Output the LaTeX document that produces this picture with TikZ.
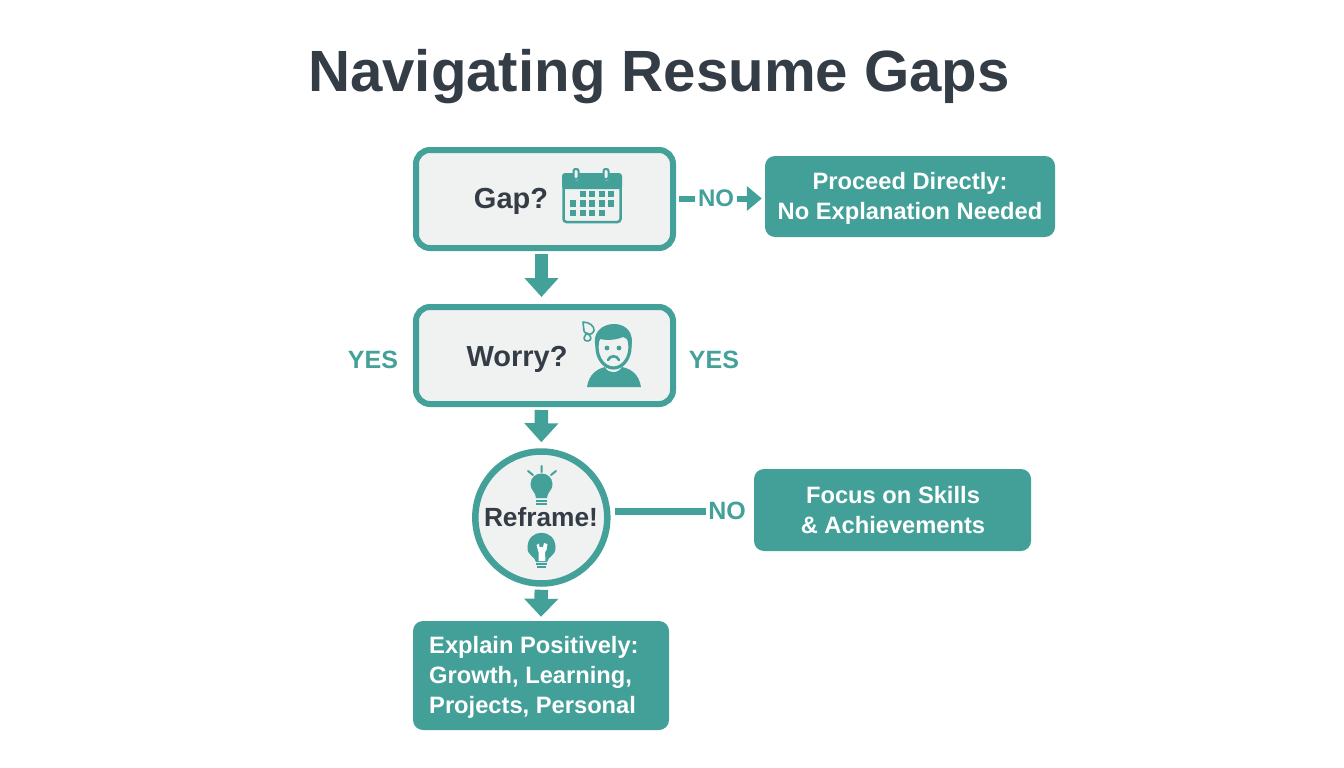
\documentclass[tikz,border=0pt]{standalone}
\usepackage{fontspec}
\setmainfont{Liberation Sans}
\usetikzlibrary{arrows.meta}
\definecolor{tealmain}{HTML}{43A19A}
\definecolor{tealfill}{HTML}{42A098}
\definecolor{inkdark}{HTML}{343C45}
\definecolor{boxgrey}{HTML}{F0F1F1}
\tikzset{
    decision/.style={draw=tealmain, line width=6pt, fill=boxgrey, rounded corners=14pt, minimum width=257pt, minimum height=98pt, inner sep=0pt},
    reframebox/.style={circle, draw=tealmain, line width=6.5pt, fill=boxgrey, minimum size=132pt, inner sep=0pt},
    outcome/.style={fill=tealfill, rounded corners=10pt, inner sep=0pt},
    whitetext/.style={text=white, font=\bfseries\fontsize{23.7}{30}\selectfont, inner sep=0pt},
    asktext/.style={text=inkdark, font=\bfseries\fontsize{29}{34}\selectfont, inner sep=0pt},
    answer/.style={text=tealmain, font=\bfseries\fontsize{25}{30}\selectfont, inner sep=0pt},
    flow/.style={draw=tealmain, line width=13.5pt, -{Triangle[width=33pt, length=19pt]}},
    sideline/.style={draw=tealmain, line width=6pt},
}
\begin{document}
\begin{tikzpicture}[x=1pt, y=-1pt]
    \useasboundingbox (0, 0) rectangle (1344, 768);

    \node[text=inkdark, font=\bfseries\fontsize{58.2}{64}\selectfont, inner sep=0pt] (title) at (659, 77) {Navigating Resume Gaps};

    % boxes
    \node[decision] (gap) at (544.5, 199) {};
    \node[decision, minimum height=97pt] (worry) at (544.5, 355.5) {};
    \node[reframebox] (reframe) at (541.3, 517.5) {};
    \node[outcome, minimum width=290pt, minimum height=81pt] (proceed) at (910, 196.5) {};
    \node[outcome, minimum width=277pt, minimum height=82pt] (focus) at (892.5, 510) {};
    \node[outcome, minimum width=256pt, minimum height=109pt] (explain) at (541, 675.5) {};

    % texts
    \node[asktext] (gaptext) at (511, 201) {Gap?};
    \node[asktext] (worrytext) at (517, 359.5) {Worry?};
    \node[asktext, font=\bfseries\fontsize{26.3}{30}\selectfont] (reframetext) at (541, 517) {Reframe!};
    \node[whitetext, align=center] (proceedtext) at (910, 198) {Proceed Directly:\\No Explanation Needed};
    \node[whitetext, align=center] (focustext) at (893, 510) {Focus on Skills\\\& Achievements};
    \node[whitetext, align=left, anchor=west] (explaintext) at (429, 677) {Explain Positively:\\Growth, Learning,\\Projects, Personal};
    \node[answer] (yesleft) at (373, 360) {YES};
    \node[answer] (yesright) at (714, 360) {YES};
    \node[answer, font=\bfseries\fontsize{24}{30}\selectfont] (nogap) at (716, 198.5) {NO};
    \node[answer] (noreframe) at (727, 511) {NO};

    % connectors
    \draw[flow, shorten <=3pt, shorten >=7pt] ([xshift=-3pt]gap.south) -- ([xshift=-3pt]worry.north);
    \draw[flow, shorten <=3pt, shorten >=6pt] ([xshift=-3pt]worry.south) -- (reframe.north);
    \draw[flow, shorten <=3pt, shorten >=4pt, -{Triangle[width=33pt, length=18pt]}] (reframe.south) -- (explain.north);
    \draw[sideline, shorten <=3pt, shorten >=3pt] (gap.east |- nogap.west) -- (nogap.west);
    \draw[sideline, shorten <=3pt, shorten >=3pt, -{Triangle[width=24pt, length=15pt]}] (nogap.east) -- (nogap.east -| proceed.west);
    \draw[sideline, line width=7pt, shorten <=4pt, shorten >=2pt] (reframe.east |- noreframe.west) -- (noreframe.west);

    % calendar
    \draw[tealmain, line width=2.5pt, fill=boxgrey, rounded corners=3pt] (563.5, 175) rectangle (620.5, 222);
    \fill[tealmain, rounded corners=3pt] (562, 173) rectangle (622, 189);
    \foreach \ringx in {576, 606} {
        \draw[boxgrey, line width=5pt, line cap=round] (\ringx, 170) -- (\ringx, 178);
        \draw[tealmain, line width=2pt, line cap=round, fill=boxgrey, rounded corners=2pt] (\ringx-2.5, 169) rectangle (\ringx+2.5, 179);
    }
    \foreach \cellx in {583, 592, 602, 611} \fill[tealmain] (\cellx-3.2, 191) rectangle (\cellx+3.2, 197);
    \foreach \cellx in {573, 583, 592, 602, 611} \fill[tealmain] (\cellx-3.2, 200) rectangle (\cellx+3.2, 206.5);
    \foreach \cellx in {573, 583, 592, 602} \fill[tealmain] (\cellx-3.2, 210) rectangle (\cellx+3.2, 216);

    % worried face
    \fill[tealmain] (587, 387) .. controls (589, 374) and (597, 369) .. (605, 367) .. controls (608, 374) and (618, 374) .. (622, 367) .. controls (632, 369) and (639, 375) .. (641, 387) -- cycle;
    \draw[tealmain, line width=3.2pt] (613.5, 347) ellipse (16.5pt and 21pt);
    \fill[tealmain] (596, 348) .. controls (591, 333) and (602, 324) .. (614, 324) .. controls (626, 324) and (635, 333) .. (631, 348) .. controls (630, 342) and (627, 338) .. (623, 337) .. controls (614, 341) and (604, 340) .. (600, 339) .. controls (598, 341) and (597, 344) .. (596, 348) -- cycle;
    \fill[tealmain] (607, 348) circle (2.4pt) (619, 348) circle (2.4pt);
    \draw[tealmain, line width=2.6pt, line cap=round] (608, 360) .. controls (610, 355) and (617, 355) .. (619, 360);
    \draw[tealmain, line width=1.6pt, line join=round] (583, 322) .. controls (589, 322) and (595, 326) .. (594, 331) .. controls (592, 336) and (585, 335) .. (584, 331) .. controls (583, 328) and (584, 325) .. (583, 322) -- cycle;
    \draw[tealmain, line width=1.6pt, line join=round] (587, 333) .. controls (590, 335) and (592, 338) .. (590, 340) .. controls (588, 342) and (584, 341) .. (584, 338) .. controls (584, 336) and (586, 335) .. (587, 333) -- cycle;

    % bulbs
    \draw[tealmain, line width=2pt, line cap=round] (541.7, 466) -- (541.7, 472) (528, 471) -- (533, 475) (556, 471) -- (551, 475);
    \fill[tealmain] (536, 498) .. controls (536, 492) and (530, 490) .. (530.5, 484) .. controls (531, 470) and (552, 470) .. (552.5, 484) .. controls (553, 490) and (547, 492) .. (547, 498) -- cycle;
    \draw[tealmain, line width=1.5pt] (536, 501) -- (547, 501) (536, 504) -- (547, 504);
    \fill[tealmain] (536, 562) .. controls (535, 556) and (527, 556) .. (527.5, 547) .. controls (528, 528) and (555, 528) .. (555.5, 547) .. controls (556, 556) and (548, 556) .. (547, 562) -- cycle;
    \draw[tealmain, line width=1.5pt] (536, 564) -- (547, 564) (537, 567) -- (546, 567);
    \fill[white] (536.5, 545) -- (539, 543.5) -- (539.5, 547) -- (543, 547) -- (544, 543) -- (547.5, 544) -- (546.5, 550) -- (545, 552) -- (545.5, 561) -- (538.5, 561) -- (538.5, 552) -- cycle;
\end{tikzpicture}
\end{document}
